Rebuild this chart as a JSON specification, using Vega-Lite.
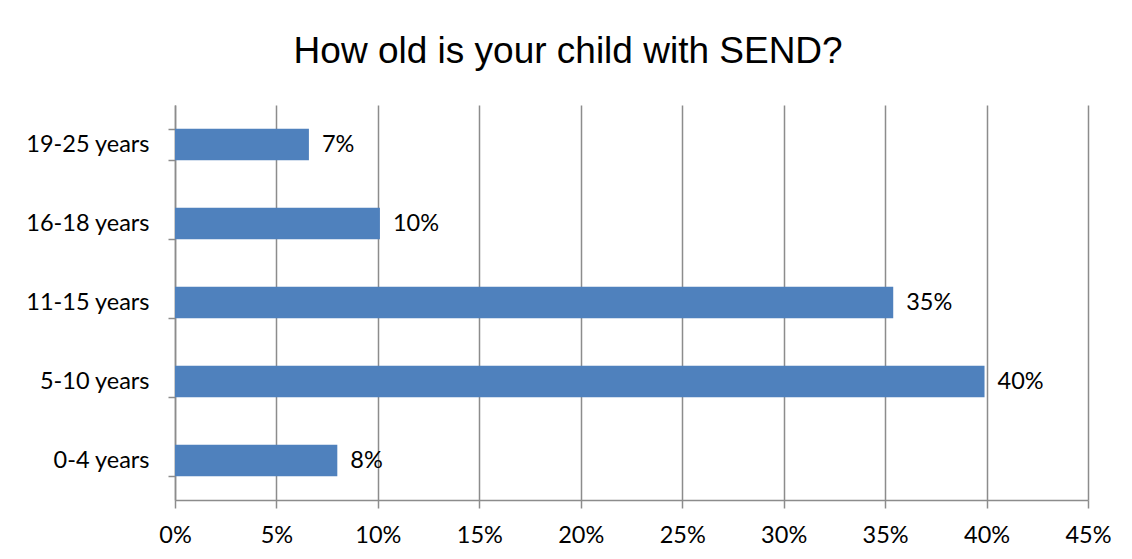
{
  "$schema": "https://vega.github.io/schema/vega-lite/v6.json",
  "autosize": {"type": "none"},
  "width": 913,
  "height": 395,
  "padding": {"left": 175, "top": 105, "right": 44, "bottom": 59},
  "background": "white",
  "title": {
    "text": "How old is your child with SEND?",
    "font": "Liberation Sans",
    "fontSize": 37,
    "fontWeight": "normal",
    "color": "#000000",
    "anchor": "middle",
    "frame": "bounds",
    "offset": 22
  },
  "data": {
    "values": [
      {"age": "19-25 years", "share": 0.066},
      {"age": "16-18 years", "share": 0.101},
      {"age": "11-15 years", "share": 0.354},
      {"age": "5-10 years", "share": 0.399},
      {"age": "0-4 years", "share": 0.080}
    ]
  },
  "encoding": {
    "y": {
      "field": "age",
      "type": "nominal",
      "sort": ["19-25 years", "16-18 years", "11-15 years", "5-10 years", "0-4 years"],
      "scale": {"paddingInner": 0.6, "paddingOuter": 0.3},
      "axis": {
        "title": null,
        "tickBand": "extent",
        "tickSize": 7,
        "tickColor": "#8c8c8c",
        "tickWidth": 1.5,
        "domainColor": "#8c8c8c",
        "domainWidth": 1.5,
        "labelFont": "Lato",
        "labelFontSize": 23.5,
        "labelColor": "#000000",
        "labelPadding": 19,
        "grid": false
      }
    },
    "x": {
      "field": "share",
      "type": "quantitative",
      "scale": {"domain": [0, 0.45], "nice": false},
      "axis": {
        "title": null,
        "values": [0, 0.05, 0.1, 0.15, 0.2, 0.25, 0.3, 0.35, 0.4, 0.45],
        "format": ".0%",
        "grid": true,
        "gridColor": "#8c8c8c",
        "gridWidth": 1.5,
        "tickSize": 8,
        "tickColor": "#8c8c8c",
        "tickWidth": 1.5,
        "domainColor": "#8c8c8c",
        "domainWidth": 1.5,
        "labelFont": "Lato",
        "labelFontSize": 23.5,
        "labelColor": "#000000",
        "labelPadding": 15,
        "labelFlush": false
      }
    }
  },
  "layer": [
    {"mark": {"type": "bar", "color": "#4f81bd"}},
    {
      "mark": {"type": "text", "align": "left", "baseline": "middle", "dx": 13, "font": "Lato", "fontSize": 23.5, "color": "#000000"},
      "encoding": {"text": {"field": "share", "type": "quantitative", "format": ".0%"}}
    }
  ],
  "config": {"view": {"stroke": null}}
}
